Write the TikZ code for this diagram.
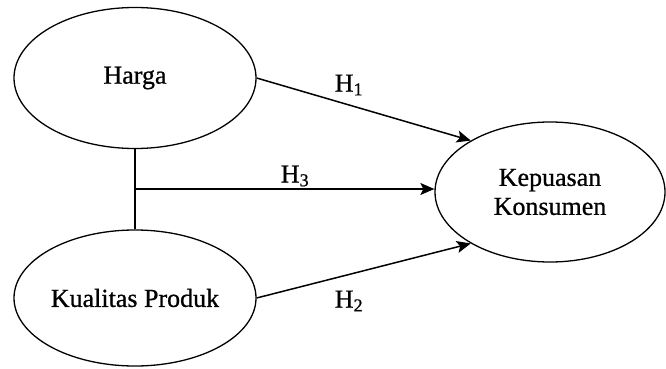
\documentclass[tikz,border=0pt]{standalone}
\usepackage{fontspec}
\setmainfont{Liberation Serif}
\newfontfamily\labfont[FakeBold=0.8]{Liberation Serif}
\usetikzlibrary{shapes.geometric,arrows.meta}
\begin{document}
\begin{tikzpicture}[x=1pt,y=-1pt,
  ell/.style={draw,ellipse,line width=1.3pt,inner sep=0pt,font=\labfont\fontsize{26}{29}\selectfont,align=center},
  conn/.style={line width=1.5pt},
  arr/.style={conn,-{Stealth[length=14pt,width=12pt,inset=3pt]}},
  lab/.style={font=\labfont\fontsize{26}{29}\selectfont,inner sep=0pt}]
\useasboundingbox (0,0) rectangle (666,369);
\node[ell,minimum width=242pt,minimum height=141pt] (harga) at (135,78) {Harga};
\node[ell,minimum width=242pt,minimum height=136pt] (kual) at (135,298) {Kualitas Produk};
\node[ell,minimum width=230pt,minimum height=140pt] (kep) at (550,192) {Kepuasan\\Konsumen};
\coordinate (j) at (135,189);
\draw[conn] (harga.south) -- (kual.north);
\draw[arr] (harga.east) -- (kep.147);
\draw[arr] (kual.east) -- (kep.213);
\draw[arr] (j) -- (kep.west |- j);
\node[lab] (h1) at (349,85) {H\textsubscript{1}};
\node[lab] (h3) at (295,176) {H\textsubscript{3}};
\node[lab] (h2) at (349,301) {H\textsubscript{2}};
\end{tikzpicture}
\end{document}
